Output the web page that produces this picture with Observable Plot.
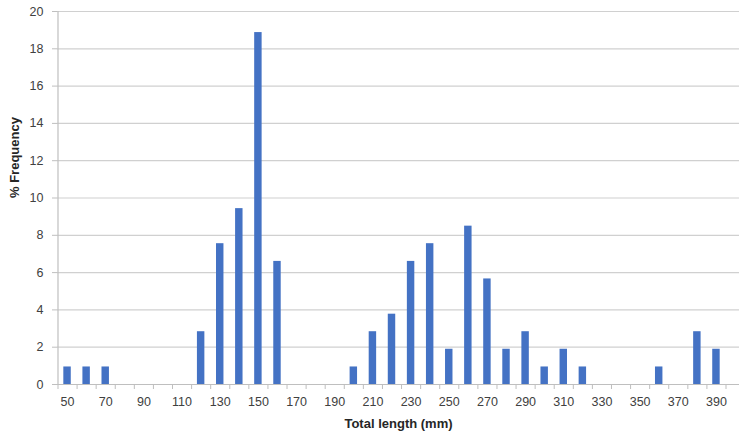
<!DOCTYPE html>
<html>
<head>
<meta charset="utf-8">
<script src="https://cdn.jsdelivr.net/npm/d3@7"></script>
<script src="https://cdn.jsdelivr.net/npm/@observablehq/plot@0.6"></script>
<style>
  html, body { margin: 0; padding: 0; background: #fff; }
  #chart svg { display: block; }
</style>
</head>
<body>
<div id="chart"></div>
<script>
// Total length class (mm)
const lengths = [50, 60, 70, 120, 130, 140, 150, 160, 200, 210, 220, 230, 240, 250, 260, 270, 280, 290, 300, 310, 320, 360, 380, 390];
// % Frequency
const percents = [0.94, 0.94, 0.94, 2.83, 7.55, 9.43, 18.87, 6.60, 0.94, 2.83, 3.77, 6.60, 7.55, 1.89, 8.49, 5.66, 1.89, 2.83, 0.94, 1.89, 0.94, 0.94, 2.83, 1.89];
// Category boundaries (tick marks) and labelled ticks
const boundaries = d3.range(45, 400, 10);
const xTickLabels = [50, 70, 90, 110, 130, 150, 170, 190, 210, 230, 250, 270, 290, 310, 330, 350, 370, 390];
const yTicks = [0, 2, 4, 6, 8, 10, 12, 14, 16, 18, 20];

const data = lengths.map((l, i) => ({length: l, pct: percents[i]}));
const halfBar = 1.95;

const font = "'Liberation Sans', 'DejaVu Sans', sans-serif";

const plot = Plot.plot({
  width: 739,
  height: 438,
  marginLeft: 57,
  marginRight: 0,
  marginTop: 11,
  marginBottom: 54,
  style: {fontFamily: font, fontSize: "12px", color: "#404040", background: "#fff"},
  x: {type: "linear", domain: [45, 395], range: [57.5, 725.5]},
  y: {domain: [0, 20]},
  marks: [
    Plot.ruleY(yTicks.filter(d => d > 0), {stroke: "#d0d0d0", strokeWidth: 1.2}),
    Plot.rectY(data, {x1: d => d.length - halfBar, x2: d => d.length + halfBar, y: "pct", fill: "#4472C4"}),
    Plot.ruleY([0], {stroke: "#bfbfbf", strokeWidth: 1.2}),
    Plot.ruleX([45], {stroke: "#bfbfbf", strokeWidth: 1.2}),
    Plot.axisY({ticks: yTicks, tickSize: 5, tickPadding: 9, stroke: "#bfbfbf", label: null, fill: "#404040", fontSize: 12.5}),
    Plot.axisX({ticks: boundaries, tickSize: 5, tickFormat: () => "", stroke: "#bfbfbf", label: null}),
    Plot.axisX({ticks: xTickLabels, tickSize: 0, tickPadding: 13, label: null, fill: "#404040", fontSize: 12.5}),
    Plot.text(["Total length (mm)"], {frameAnchor: "bottom", dy: 43, fontWeight: "bold", fontSize: 13, fill: "#262626"}),
    Plot.text(["% Frequency"], {frameAnchor: "left", dx: -43, rotate: -90, fontWeight: "bold", fontSize: 13, fill: "#262626"})
  ]
});
document.getElementById("chart").appendChild(plot);
</script>
</body>
</html>
